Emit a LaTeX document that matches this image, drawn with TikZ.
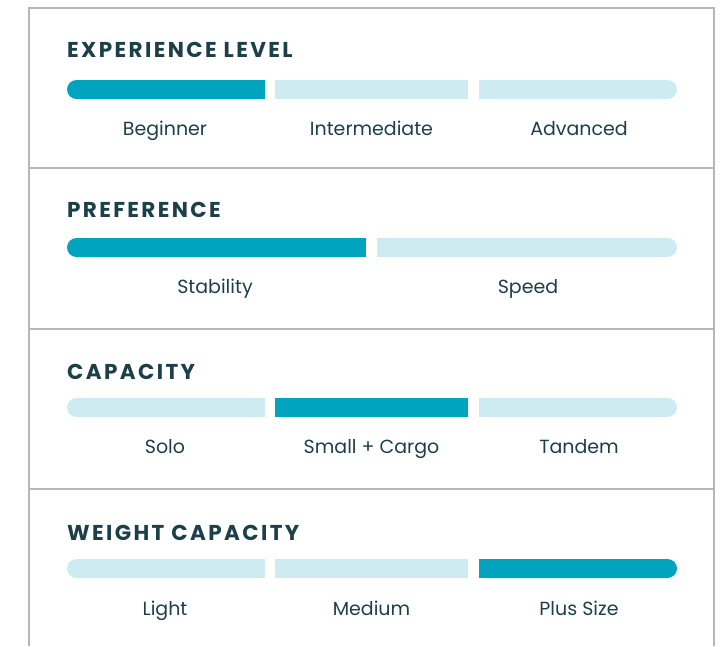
\documentclass[tikz,border=0pt]{standalone}
\usepackage{fontspec}
\setmainfont{Poppins}
\newfontfamily\headfont[LetterSpace=11]{Poppins}
\usetikzlibrary{positioning}
\definecolor{barOn}{HTML}{00A4BF}
\definecolor{barOff}{HTML}{CDEBF0}
\definecolor{ink}{HTML}{1C3F4A}
\definecolor{frame}{HTML}{B5B7B8}

\begin{document}
\begin{tikzpicture}[x=1pt, y=-1pt,
    heading/.style={anchor=base west, inner sep=0pt, text=ink, font=\headfont\bfseries\fontsize{21.5}{21.5}\selectfont},
    choice/.style={anchor=base, inner sep=0pt, text=ink, font=\fontsize{19}{19}\selectfont},
    border/.style={draw=frame, line width=2.4pt}]
    \useasboundingbox (0,0) rectangle (725,646);

    % frame
    \draw[border] (29,646) -- (29,8) -- (714,8) -- (714,646);
    \draw[border] (29,168) -- (714,168);
    \draw[border] (29,329) -- (714,329);
    \draw[border] (29,489) -- (714,489);

    % experience level
    \node[heading] (expTitle) at (67,57) {EXPERIENCE LEVEL};
    \fill[barOn, rounded corners=9.5] (67,80) rectangle (265,99);
    \fill[barOn] (120,80) rectangle (265,99);
    \fill[barOff] (275,80) rectangle (468,99);
    \fill[barOff, rounded corners=9.5] (479,80) rectangle (677,99);
    \fill[barOff] (479,80) rectangle (620,99);
    \node[choice] (beginner) at (165,135) {Beginner};
    \node[choice] (intermediate) at (371.5,135) {Intermediate};
    \node[choice] (advanced) at (579,135) {Advanced};

    % preference
    \node[heading] (prefTitle) at (67,217) {PREFERENCE};
    \fill[barOn, rounded corners=9.5] (67,238) rectangle (366,257);
    \fill[barOn] (120,238) rectangle (366,257);
    \fill[barOff, rounded corners=9.5] (377,238) rectangle (677,257);
    \fill[barOff] (377,238) rectangle (620,257);
    \node[choice] (stability) at (215,293) {Stability};
    \node[choice] (speed) at (528,293) {Speed};

    % capacity
    \node[heading] (capTitle) at (67,379) {CAPACITY};
    \fill[barOff, rounded corners=9.5] (67,398) rectangle (265,417);
    \fill[barOff] (120,398) rectangle (265,417);
    \fill[barOn] (275,398) rectangle (468,417);
    \fill[barOff, rounded corners=9.5] (479,398) rectangle (677,417);
    \fill[barOff] (479,398) rectangle (620,417);
    \node[choice] (solo) at (165,453) {Solo};
    \node[choice] (smallCargo) at (371.5,453) {Small + Cargo};
    \node[choice] (tandem) at (579,453) {Tandem};

    % weight capacity
    \node[heading] (weightTitle) at (67,540) {WEIGHT CAPACITY};
    \fill[barOff, rounded corners=9.5] (67,559) rectangle (265,578);
    \fill[barOff] (120,559) rectangle (265,578);
    \fill[barOff] (275,559) rectangle (468,578);
    \fill[barOn, rounded corners=9.5] (479,559) rectangle (677,578);
    \fill[barOn] (479,559) rectangle (620,578);
    \node[choice] (light) at (165,615) {Light};
    \node[choice] (medium) at (371.5,615) {Medium};
    \node[choice] (plusSize) at (579,615) {Plus Size};
\end{tikzpicture}
\end{document}
